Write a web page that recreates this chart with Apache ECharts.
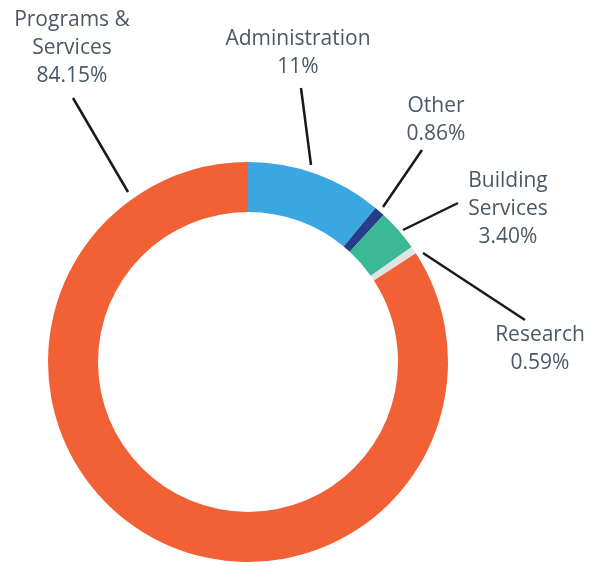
<!DOCTYPE html>
<html><head><meta charset="utf-8">
<script src="https://cdn.jsdelivr.net/npm/echarts@6/dist/echarts.min.js"></script>
<style>html,body{margin:0;padding:0;background:#fff}#c{width:599px;height:566px}</style>
</head><body><div id="c"></div>
<script>
const categories = ['Administration', 'Other', 'Building\nServices', 'Research', 'Programs &\nServices'];
const values = [11, 0.86, 3.40, 0.59, 84.15];
const valueLabels = ['11%', '0.86%', '3.40%', '0.59%', '84.15%'];
const colors = ['#3aa7e3', '#243e87', '#3bb894', '#e1e3e3', '#f26135'];

// label placement (style): text centre and leader line endpoints
const labelPos = [
  {x: 298, y: 53, line: [[311, 165], [301, 88]]},
  {x: 436, y: 120, line: [[383, 207], [422, 150]]},
  {x: 508, y: 209, line: [[403, 230], [458, 203]]},
  {x: 540, y: 349, line: [[423, 253], [525, 320]]},
  {x: 72, y: 48, line: [[128, 192], [73, 98]]}
];

const chart = echarts.init(document.getElementById('c'));
chart.setOption({
  animation: false,
  series: [{
    type: 'pie',
    center: [248, 362],
    radius: [150, 200],
    startAngle: 90,
    clockwise: true,
    avoidLabelOverlap: false,
    data: categories.map((c, i) => ({name: c, value: values[i], itemStyle: {color: colors[i]}})),
    label: {
      show: true,
      formatter: p => p.name + '\n' + valueLabels[p.dataIndex],
      fontFamily: 'Open Sans',
      fontSize: 21,
      lineHeight: 28,
      color: '#4b5966',
      align: 'center'
    },
    labelLine: {show: true, lineStyle: {color: '#1a1a1a', width: 2.5}},
    labelLayout: function (p) {
      const l = labelPos[p.dataIndex];
      return {x: l.x, y: l.y, align: 'center', verticalAlign: 'middle', labelLinePoints: l.line};
    },
    emphasis: {disabled: true}
  }]
});
</script></body></html>
